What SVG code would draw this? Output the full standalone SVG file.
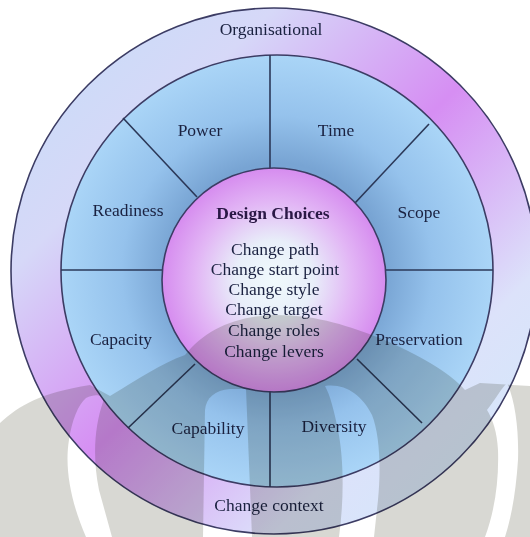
<svg xmlns="http://www.w3.org/2000/svg" width="530" height="537" viewBox="0 0 530 537">
<style>
  .lbl { font-family: "Liberation Serif", "Times New Roman", serif; font-size: 17.5px; fill: #1a2140; text-anchor: middle; }
  .ttl { font-weight: bold; fill: #2a1845; }
  .div { stroke: #2b3858; stroke-width: 1.6; fill: none; }
  .edge { stroke: #3c3c64; stroke-width: 1.6; }
</style>
<defs>
  <linearGradient id="gRing" gradientUnits="userSpaceOnUse" x1="11" y1="8" x2="537" y2="534">
    <stop offset="0" stop-color="#c4def8"/>
    <stop offset="0.25" stop-color="#d6d8f8"/>
    <stop offset="0.5" stop-color="#d68ef3"/>
    <stop offset="0.75" stop-color="#dce2fa"/>
    <stop offset="1" stop-color="#d0eafb"/>
  </linearGradient>
  <radialGradient id="gMid" gradientUnits="userSpaceOnUse" cx="277" cy="271" r="216">
    <stop offset="0.5" stop-color="#78a4d3"/>
    <stop offset="0.72" stop-color="#95c2ec"/>
    <stop offset="1" stop-color="#aad5f7"/>
  </radialGradient>
  <radialGradient id="gIn" gradientUnits="userSpaceOnUse" cx="274" cy="280" r="112">
    <stop offset="0" stop-color="#f0fafc"/>
    <stop offset="0.35" stop-color="#e8eef9"/>
    <stop offset="0.7" stop-color="#e2b6f5"/>
    <stop offset="1" stop-color="#d68cef"/>
  </radialGradient>
  <mask id="wm" maskUnits="userSpaceOnUse" x="0" y="0" width="530" height="537">
    <path fill="#fff" d="M0,537 L0,423 C20,405 40,393 90,385 L110,396 C140,378 160,364 185,355 C205,330 235,316 275,315 C320,315 350,327 380,338 C420,355 450,373 465,390 L480,383 L530,386 L530,537 Z"/>
    <path fill="#000" d="M86,398 C96,393 104,395 103,402 C95,425 92,455 99,490 L112,537 L86,537 C72,505 64,470 69,440 C72,420 78,405 86,398 Z"/>
    <path fill="#000" d="M203,537 L205,410 C206,398 215,390 230,389 L246,389 L252,537 Z"/>
    <path fill="#000" d="M325,386 C345,383 362,395 372,415 C380,435 381,470 378,500 L374,537 L339,537 C344,500 344,460 338,430 C334,410 330,395 325,386 Z"/>
    <path fill="#000" d="M487,410 C495,400 500,390 507,383 C515,400 519,430 518,460 C516,490 512,515 505,537 L485,537 C495,510 499,480 498,450 C497,432 493,420 487,410 Z"/>
  </mask>
</defs>
<rect width="530" height="537" fill="#ffffff"/>

<g id="ring-outer">
  <circle cx="274" cy="271" r="263" fill="url(#gRing)" class="edge"/>
</g>
<g id="ring-middle">
  <circle cx="277" cy="271" r="216" fill="url(#gMid)" class="edge"/>
</g>

<g id="connectors">
  <line class="div" x1="270" y1="55" x2="270" y2="168"/>
  <line class="div" x1="270" y1="392" x2="270" y2="487"/>
  <line class="div" x1="61" y1="270" x2="163" y2="270"/>
  <line class="div" x1="385" y1="270" x2="493" y2="270"/>
  <line class="div" x1="123" y1="118" x2="197" y2="197"/>
  <line class="div" x1="429" y1="124" x2="355" y2="203"/>
  <line class="div" x1="195" y1="364" x2="128" y2="428"/>
  <line class="div" x1="357" y1="359" x2="422" y2="423"/>
</g>

<g id="center">
  <circle cx="274" cy="280" r="112" fill="url(#gIn)" class="edge"/>
  <text class="lbl ttl" x="273" y="219">Design Choices</text>
  <text class="lbl" x="275" y="255">Change path</text>
  <text class="lbl" x="275" y="275">Change start point</text>
  <text class="lbl" x="274" y="295">Change style</text>
  <text class="lbl" x="274" y="315">Change target</text>
  <text class="lbl" x="274" y="336">Change roles</text>
  <text class="lbl" x="274" y="357">Change levers</text>
</g>

<g id="organisational"><text class="lbl" x="271" y="35">Organisational</text></g>
<g id="change-context"><text class="lbl" x="269" y="511">Change context</text></g>
<g id="power"><text class="lbl" x="200" y="136">Power</text></g>
<g id="time"><text class="lbl" x="336" y="136">Time</text></g>
<g id="readiness"><text class="lbl" x="128" y="216">Readiness</text></g>
<g id="scope"><text class="lbl" x="419" y="218">Scope</text></g>
<g id="capacity"><text class="lbl" x="121" y="345">Capacity</text></g>
<g id="preservation"><text class="lbl" x="419" y="345">Preservation</text></g>
<g id="capability"><text class="lbl" x="208" y="434">Capability</text></g>
<g id="diversity"><text class="lbl" x="334" y="432">Diversity</text></g>

<g id="watermark">
  <rect x="0" y="0" width="530" height="537" fill="#d8d8d3" mask="url(#wm)" style="mix-blend-mode:multiply"/>
</g>
</svg>
